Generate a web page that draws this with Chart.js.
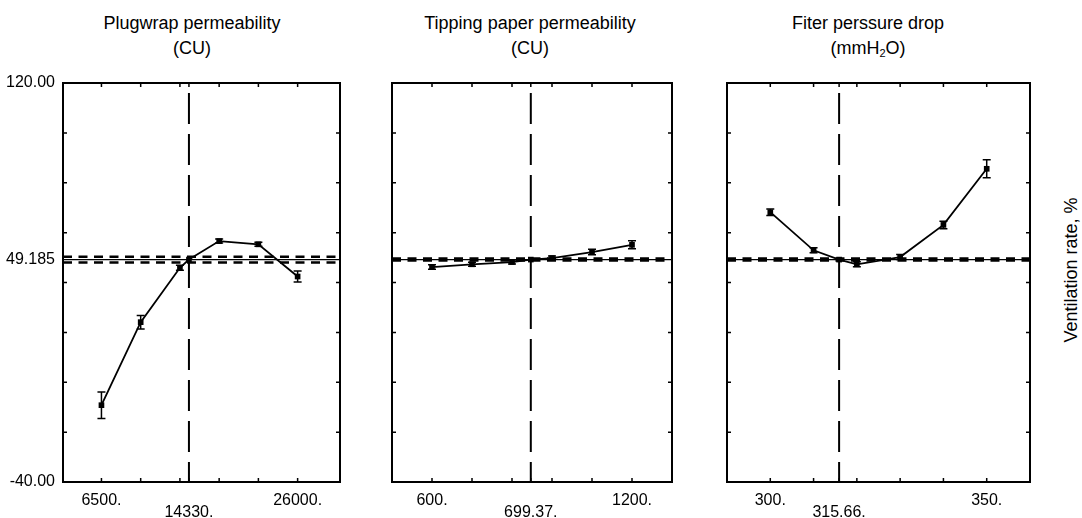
<!DOCTYPE html>
<html lang="en">
<head>
<meta charset="UTF-8">
<title>Ventilation rate profiles</title>
<script src="https://cdn.jsdelivr.net/npm/chart.js@4.4.0/dist/chart.umd.min.js"></script>
<style>
  html, body { margin: 0; padding: 0; background: #fff; }
  body {
    width: 1082px; height: 518px; position: relative; overflow: hidden;
    font-family: 'Liberation Sans', Arial, sans-serif; color: #000;
  }
  .title {
    position: absolute; top: 11px; width: 320px; text-align: center;
    font-size: 18px; line-height: 25px; white-space: nowrap;
  }
  .title sub { font-size: 11px; vertical-align: -3px; line-height: 0; }
  .panel { position: absolute; top: 70px; }
  .ylab {
    position: absolute; left: 1071px; top: 270px; font-size: 18px; white-space: nowrap;
    transform: translate(-50%, -50%) rotate(-90deg);
  }
</style>
</head>
<body>
<div class="title" style="left:32px">Plugwrap permeability<br>(CU)</div>
<div class="title" style="left:370px">Tipping paper permeability<br>(CU)</div>
<div class="title" style="left:708px">Fiter perssure drop<br>(mmH<sub>2</sub>O)</div>

<canvas id="plug" class="panel" width="345" height="448" style="left:0px"></canvas>
<canvas id="tip" class="panel" width="300" height="448" style="left:380px"></canvas>
<canvas id="filt" class="panel" width="325" height="448" style="left:715px"></canvas>

<div class="ylab">Ventilation rate, %</div>

<script>
// shared y axis
const yMin = -40, yMax = 120;
const yTickValues = [-40, 49.185, 120];
const yTickLabels = ['-40.00', '49.185', '120.00'];
const yMarkTicks = [-20, 0, 20, 40, 60, 80, 100];
const predicted = 49.185;
// x is the position on the profile grid (6 levels), current level in between
const gridLevels = [0, 1, 2, 3, 4, 5];

// Plugwrap permeability (CU)
const plugPos = [0, 1, 2, 2.23, 3, 4, 5];
const plugVent = [-9.2, 24.1, 45.9, 49.185, 56.6, 55.3, 42.4];
const plugErr = [5.3, 2.7, 1.0, 0, 0.8, 0.8, 2.2];
const plugCurrent = 2.23;
const plugTickPos = [0, 2.23, 5];
const plugTickLabels = ['6500.', '14330.', '26000.'];
const plugBand = [50.3, 48.0];

// Tipping paper permeability (CU)
const tipPos = [0, 1, 2, 2.47, 3, 4, 5];
const tipVent = [46.2, 47.3, 48.2, 49.185, 49.8, 52.2, 55.1];
const tipErr = [0.9, 0.8, 0.8, 0, 0.8, 1.1, 1.6];
const tipCurrent = 2.47;
const tipTickPos = [0, 2.47, 5];
const tipTickLabels = ['600.', '699.37.', '1200.'];
const tipBand = [49.6, 48.8];

// Filter pressure drop (mmH2O)
const filtPos = [0, 1, 1.59, 2, 3, 4, 5];
const filtVent = [68.2, 52.9, 49.185, 47.3, 50.2, 63.1, 85.6];
const filtErr = [1.3, 1.0, 0, 1.0, 1.0, 1.5, 3.6];
const filtCurrent = 1.59;
const filtTickPos = [0, 1.59, 5];
const filtTickLabels = ['300.', '315.66.', '350.'];
const filtBand = [49.6, 48.8];

const errorBars = {
  id: 'errorBars',
  afterDatasetsDraw(chart) {
    const ctx = chart.ctx, ys = chart.scales.y;
    const ds = chart.data.datasets[0];
    const meta = chart.getDatasetMeta(0);
    ctx.save();
    ctx.strokeStyle = '#000';
    ctx.lineWidth = 1.5;
    meta.data.forEach((pt, i) => {
      const e = ds.errors[i];
      if (!e) return;
      const v = ds.data[i].y;
      const top = ys.getPixelForValue(v + e), bot = ys.getPixelForValue(v - e);
      ctx.beginPath();
      ctx.moveTo(pt.x, top); ctx.lineTo(pt.x, bot);
      ctx.moveTo(pt.x - 4, top); ctx.lineTo(pt.x + 4, top);
      ctx.moveTo(pt.x - 4, bot); ctx.lineTo(pt.x + 4, bot);
      ctx.stroke();
    });
    ctx.restore();
  }
};

const frame = {
  id: 'frame',
  afterDraw(chart, args, opts) {
    const { ctx, chartArea: a, scales } = chart;
    ctx.save();
    ctx.strokeStyle = '#000';
    ctx.lineWidth = 2;
    ctx.strokeRect(a.left, a.top, a.right - a.left, a.bottom - a.top);
    ctx.lineWidth = 1.5;
    ctx.beginPath();
    gridLevels.concat([opts.current]).forEach(v => {
      const x = scales.x.getPixelForValue(v);
      ctx.moveTo(x, a.top); ctx.lineTo(x, a.top + 4);
      ctx.moveTo(x, a.bottom); ctx.lineTo(x, a.bottom - 4);
    });
    yMarkTicks.forEach(v => {
      const y = scales.y.getPixelForValue(v);
      ctx.moveTo(a.left, y); ctx.lineTo(a.left + 4, y);
      ctx.moveTo(a.right, y); ctx.lineTo(a.right - 4, y);
    });
    ctx.stroke();
    ctx.restore();
  }
};

function hline(x0, x1, y, width, dash) {
  return {
    data: [{ x: x0, y: y }, { x: x1, y: y }],
    borderColor: '#000', borderWidth: width, borderDash: dash,
    pointRadius: 0, fill: false
  };
}

function noPad(s) {
  s.paddingTop = 0; s.paddingBottom = 0; s.paddingLeft = 0; s.paddingRight = 0;
}

function makePanel(id, p) {
  new Chart(document.getElementById(id), {
    type: 'line',
    data: {
      datasets: [
        {
          data: p.pos.map((x, i) => ({ x: x, y: p.vent[i] })),
          errors: p.err,
          borderColor: '#000', borderWidth: 1.8,
          pointStyle: 'rect', pointRadius: 4, pointBorderWidth: 0,
          pointBackgroundColor: '#000', tension: 0, fill: false
        },
        hline(p.xMin, p.xMax, predicted, 1.3, []),
        hline(p.xMin, p.xMax, p.band[0], 2.5, [9, 6.5]),
        hline(p.xMin, p.xMax, p.band[1], 2.5, [9, 6.5]),
        {
          data: [{ x: p.current, y: yMax }, { x: p.current, y: yMin }],
          borderColor: '#000', borderWidth: 2,
          borderDash: [31, 10], borderDashOffset: 31,
          pointRadius: 0, fill: false
        }
      ]
    },
    options: {
      responsive: false,
      animation: false,
      layout: { padding: p.padding },
      plugins: { legend: { display: false }, tooltip: { enabled: false }, frame: { current: p.current } },
      scales: {
        x: {
          type: 'linear', min: p.xMin, max: p.xMax,
          grid: { display: false, drawTicks: false },
          border: { display: false },
          afterBuildTicks: s => { s.ticks = p.tickPos.map(v => ({ value: v })); },
          afterFit: s => { s.height = 36; noPad(s); },
          ticks: {
            autoSkip: false, maxRotation: 0, padding: 13, color: '#000',
            font: { family: "'Liberation Sans', Arial, sans-serif", size: 16, lineHeight: 0.72 },
            callback: (v, i) => i === 1 ? ['', p.tickLabels[i]] : p.tickLabels[i]
          }
        },
        y: {
          type: 'linear', min: yMin, max: yMax,
          display: p.showY,
          grid: { display: false, drawTicks: false },
          border: { display: false },
          afterBuildTicks: s => { s.ticks = yTickValues.map(v => ({ value: v })); },
          afterFit: s => { s.width = p.showY ? 63 : 0; noPad(s); },
          ticks: {
            padding: 8, color: '#000',
            font: { family: "'Liberation Sans', Arial, sans-serif", size: 16 },
            callback: (v, i) => yTickLabels[i]
          }
        }
      }
    },
    plugins: [errorBars, frame]
  });
}

makePanel('plug', {
  pos: plugPos, vent: plugVent, err: plugErr, current: plugCurrent,
  tickPos: plugTickPos, tickLabels: plugTickLabels, band: plugBand,
  xMin: -0.98, xMax: 6.08, showY: true,
  padding: { top: 13, right: 5, left: 0, bottom: 0 }
});
makePanel('tip', {
  pos: tipPos, vent: tipVent, err: tipErr, current: tipCurrent,
  tickPos: tipTickPos, tickLabels: tipTickLabels, band: tipBand,
  xMin: -1, xMax: 6, showY: false,
  padding: { top: 13, right: 8, left: 12, bottom: 0 }
});
makePanel('filt', {
  pos: filtPos, vent: filtVent, err: filtErr, current: filtCurrent,
  tickPos: filtTickPos, tickLabels: filtTickLabels, band: filtBand,
  xMin: -1, xMax: 6, showY: false,
  padding: { top: 13, right: 10, left: 12, bottom: 0 }
});
</script>
</body>
</html>
